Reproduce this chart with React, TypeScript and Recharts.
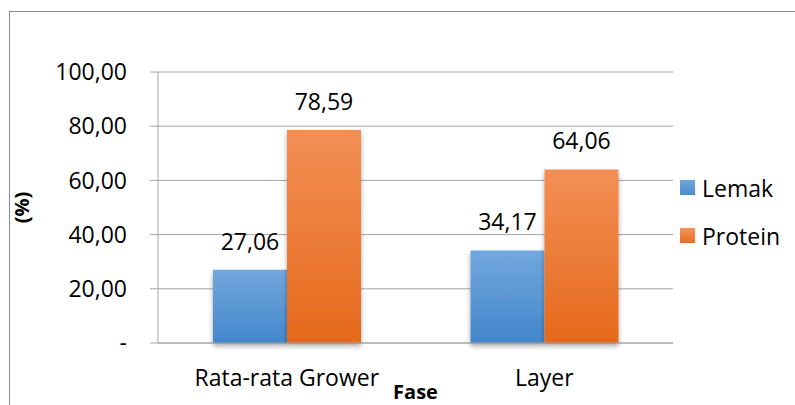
import React from "react";
import {
  BarChart,
  Bar,
  XAxis,
  YAxis,
  CartesianGrid,
  Legend,
  LabelList,
} from "recharts";

const categories = ["Rata-rata Grower", "Layer"];
const lemak = [27.06, 34.17];
const protein = [78.59, 64.06];
const yTicks = [0, 20, 40, 60, 80, 100];
const yTickLabels = ["-", "20,00", "40,00", "60,00", "80,00", "100,00"];
const seriesNames = ["Lemak", "Protein"];

const data = categories.map((fase, i) => ({
  fase,
  lemak: lemak[i],
  protein: protein[i],
}));

const FONT = "'Open Sans', sans-serif";
const GRID = "#a6a6a6";

const fmt = (v: number) => v.toFixed(2).replace(".", ",");

const LegendBox = () => (
  <div style={{ fontFamily: FONT, fontSize: 23, color: "#000" }}>
    {seriesNames.map((name, i) => (
      <div
        key={name}
        style={{ display: "flex", alignItems: "center", height: 48 }}
      >
        <div
          style={{
            width: 15,
            height: 15,
            marginRight: 7,
            background: i === 0
              ? "linear-gradient(#71a6db, #4a8bce)"
              : "linear-gradient(#f4955a, #e86e20)",
          }}
        />
        <span>{name}</span>
      </div>
    ))}
  </div>
);

const YLabel = () => (
  <text
    x={29}
    y={207.5}
    transform="rotate(-90 29 207.5)"
    textAnchor="middle"
    fontFamily={FONT}
    fontWeight="bold"
    fontSize={20}
    fill="#000"
  >
    (%)
  </text>
);

const App = () => {
  return (
    <div
      style={{
        position: "fixed",
        left: 0,
        top: 0,
        width: 795,
        height: 405,
        overflow: "hidden",
        background: "#fff",
      }}
    >
      <div
        style={{
          position: "absolute",
          left: 9,
          top: 11,
          width: 820,
          height: 430,
          border: "1px solid #8c8c8c",
        }}
      />
      <div style={{ position: "absolute", left: 0, top: 0 }}>
        <BarChart
          width={795}
          height={405}
          data={data}
          margin={{ top: 72, right: 122, left: 0, bottom: 0 }}
          barCategoryGap={55}
          barGap={0}
          style={{ fontFamily: FONT }}
        >
          <defs>
            <linearGradient id="gBlue" x1="0" y1="0" x2="0" y2="1">
              <stop offset="0%" stopColor="#72a8dd" />
              <stop offset="100%" stopColor="#4386cb" />
            </linearGradient>
            <linearGradient id="gOrange" x1="0" y1="0" x2="0" y2="1">
              <stop offset="0%" stopColor="#f38f55" />
              <stop offset="100%" stopColor="#e5691b" />
            </linearGradient>
            <filter id="shadow" x="-20%" y="-10%" width="140%" height="130%">
              <feDropShadow dx="0" dy="3" stdDeviation="2.5" floodColor="#000" floodOpacity="0.35" />
            </filter>
          </defs>
          <CartesianGrid vertical={false} stroke={GRID} />
          <XAxis
            dataKey="fase"
            height={62}
            tickLine={false}
            tickSize={0}
            tickMargin={27}
            axisLine={{ stroke: GRID }}
            tick={{ fontSize: 23, fill: "#000" }}
            label={{
              value: "Fase",
              position: "insideBottom",
              offset: 6,
              style: { fontSize: 20, fontWeight: "bold", fill: "#000" },
            }}
          />
          <YAxis
            width={158}
            domain={[0, 100]}
            ticks={yTicks}
            interval={0}
            tickSize={8}
            tickMargin={23}
            tickLine={{ stroke: GRID }}
            axisLine={{ stroke: GRID }}
            tick={{ fontSize: 23, fill: "#000" }}
            tickFormatter={(v: number) => yTickLabels[yTicks.indexOf(v)]}
            label={<YLabel />}
          />
          <Legend
            layout="vertical"
            align="center"
            verticalAlign="middle"
            content={<LegendBox />}
            wrapperStyle={{ left: 680, top: 163.5, width: 110 }}
          />
          <Bar
            dataKey="lemak"
            name={seriesNames[0]}
            fill="url(#gBlue)"
            filter="url(#shadow)"
            isAnimationActive={false}
          >
            <LabelList
              dataKey="lemak"
              position="top"
              offset={20}
              formatter={(v: number) => fmt(v)}
              style={{ fontSize: 23, fill: "#000" }}
            />
          </Bar>
          <Bar
            dataKey="protein"
            name={seriesNames[1]}
            fill="url(#gOrange)"
            filter="url(#shadow)"
            isAnimationActive={false}
          >
            <LabelList
              dataKey="protein"
              position="top"
              offset={20}
              formatter={(v: number) => fmt(v)}
              style={{ fontSize: 23, fill: "#000" }}
            />
          </Bar>
        </BarChart>
      </div>
    </div>
  );
};

export default App;
